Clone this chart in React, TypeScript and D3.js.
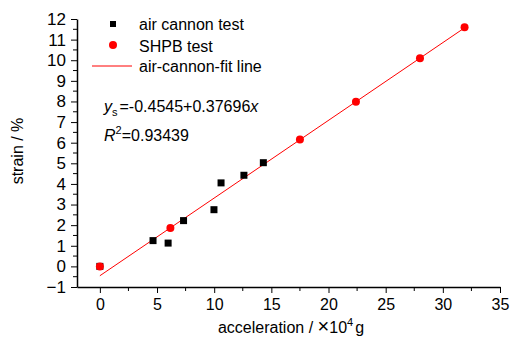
import React, {useEffect, useRef} from "react";
import * as d3 from "d3";

// air cannon test (black squares)
const cannonX = [0, 4.65, 5.97, 7.32, 9.98, 10.6, 12.6, 14.3];
const cannonY = [0, 1.25, 1.13, 2.22, 2.75, 4.05, 4.42, 5.03];

// SHPB test (red dots)
const shpbX = [0, 6.17, 17.5, 22.4, 28.0, 31.9];
const shpbY = [0, 1.86, 6.15, 7.98, 10.1, 11.6];

// fit line: y = a + b x
const fitA = -0.4545;
const fitB = 0.37696;
const fitRange = [0, 31.9];

const xTicks = [0, 5, 10, 15, 20, 25, 30, 35];
const yTicks = [-1, 0, 1, 2, 3, 4, 5, 6, 7, 8, 9, 10, 11, 12];

const FONT = "'Liberation Sans Narrow', 'Liberation Sans', Arial, sans-serif";

function drawChart(node: SVGSVGElement) {
  const svg = d3.select(node);
  svg.selectAll("*").remove();

  const x = d3.scaleLinear().domain([-2, 35]).range([77, 500]);
  const y = d3.scaleLinear().domain([-1, 12]).range([287, 19]);

  const g = svg.append("g").attr("font-family", FONT);

  // x axis with minor ticks
  const xAxis = g.append("g").attr("transform", `translate(0,${y(-1)})`);
  xAxis
    .call(d3.axisBottom(x).tickValues(xTicks).tickSize(6).tickPadding(6).tickSizeOuter(0))
    .call((s) => s.select(".domain").attr("stroke-width", 1.5))
    .call((s) => s.selectAll("text").attr("font-size", 16).attr("font-family", FONT));
  xAxis
    .selectAll(".minor")
    .data(d3.range(2.5, 35, 5))
    .enter()
    .append("line")
    .attr("x1", (d) => x(d))
    .attr("x2", (d) => x(d))
    .attr("y1", 0)
    .attr("y2", 4)
    .attr("stroke", "#000");

  // y axis with minor ticks
  const yAxis = g.append("g").attr("transform", `translate(${x(-2)},0)`);
  yAxis
    .call(d3.axisLeft(y).tickValues(yTicks).tickSize(6).tickPadding(5).tickSizeOuter(0))
    .call((s) => s.select(".domain").attr("stroke-width", 1.5))
    .call((s) => s.selectAll("text").attr("font-size", 17).attr("font-family", FONT));
  yAxis
    .selectAll(".minor")
    .data(d3.range(-0.5, 12, 1))
    .enter()
    .append("line")
    .attr("x1", -4)
    .attr("x2", 0)
    .attr("y1", (d) => y(d))
    .attr("y2", (d) => y(d))
    .attr("stroke", "#000");

  // fit line
  g.append("line")
    .attr("x1", x(fitRange[0]))
    .attr("y1", y(fitA + fitB * fitRange[0]))
    .attr("x2", x(fitRange[1]))
    .attr("y2", y(fitA + fitB * fitRange[1]))
    .attr("stroke", "#f00")
    .attr("stroke-width", 1);

  // air cannon squares
  g.selectAll(".sq")
    .data(cannonX.map((v, i) => [v, cannonY[i]]))
    .enter()
    .append("rect")
    .attr("x", (d) => x(d[0]) - 3.5)
    .attr("y", (d) => y(d[1]) - 3.5)
    .attr("width", 7)
    .attr("height", 7)
    .attr("fill", "#000");

  // SHPB dots
  g.selectAll(".dot")
    .data(shpbX.map((v, i) => [v, shpbY[i]]))
    .enter()
    .append("circle")
    .attr("cx", (d) => x(d[0]))
    .attr("cy", (d) => y(d[1]))
    .attr("r", 4)
    .attr("fill", "#f00");

  // legend
  const lg = g.append("g").attr("font-size", 16);
  lg.append("rect").attr("x", 110).attr("y", 21).attr("width", 6).attr("height", 6).attr("fill", "#000");
  lg.append("text").attr("x", 139).attr("y", 30).text("air cannon test");
  lg.append("circle").attr("cx", 113).attr("cy", 45).attr("r", 4).attr("fill", "#f00");
  lg.append("text").attr("x", 139).attr("y", 52).text("SHPB test");
  lg.append("line").attr("x1", 92).attr("x2", 132).attr("y1", 66).attr("y2", 66).attr("stroke", "#f00");
  lg.append("text").attr("x", 139).attr("y", 72).text("air-cannon-fit line");

  // equation
  const eq = g.append("text").attr("x", 104).attr("y", 112).attr("font-size", 16);
  eq.append("tspan").attr("font-style", "italic").text("y");
  eq.append("tspan").attr("font-size", 11).attr("dy", 4).text("s");
  eq.append("tspan").attr("dy", -4).attr("dx", 2).text("=-0.4545+0.37696");
  eq.append("tspan").attr("font-style", "italic").text("x");

  const r2 = g.append("text").attr("x", 104).attr("y", 141).attr("font-size", 16);
  r2.append("tspan").attr("font-style", "italic").text("R");
  r2.append("tspan").attr("font-size", 11).attr("dy", -7).text("2");
  r2.append("tspan").attr("dy", 7).text("=0.93439");

  // axis titles
  g.append("text")
    .attr("transform", `translate(23,151) rotate(-90)`)
    .attr("text-anchor", "middle")
    .attr("font-size", 16)
    .text("strain / %");

  const xl = g.append("text").attr("x", 291).attr("y", 333).attr("text-anchor", "middle").attr("font-size", 16);
  xl.append("tspan").text("acceleration / ");
  xl.append("tspan").attr("font-size", 20).text("×");
  xl.append("tspan").text("10");
  xl.append("tspan").attr("font-size", 11).attr("dy", -7).text("4");
  xl.append("tspan").attr("dy", 7).attr("dx", 2).text("g");
}

function Chart() {
  const ref = useRef<SVGSVGElement>(null);
  useEffect(() => {
    if (ref.current) drawChart(ref.current);
  }, []);
  return <svg ref={ref} width={512} height={340} style={{display: "block"}}></svg>;
}

export default function App() {
  return (
    <div style={{position: "absolute", left: 0, top: 0, background: "#fff"}}>
      <Chart />
    </div>
  );
}
